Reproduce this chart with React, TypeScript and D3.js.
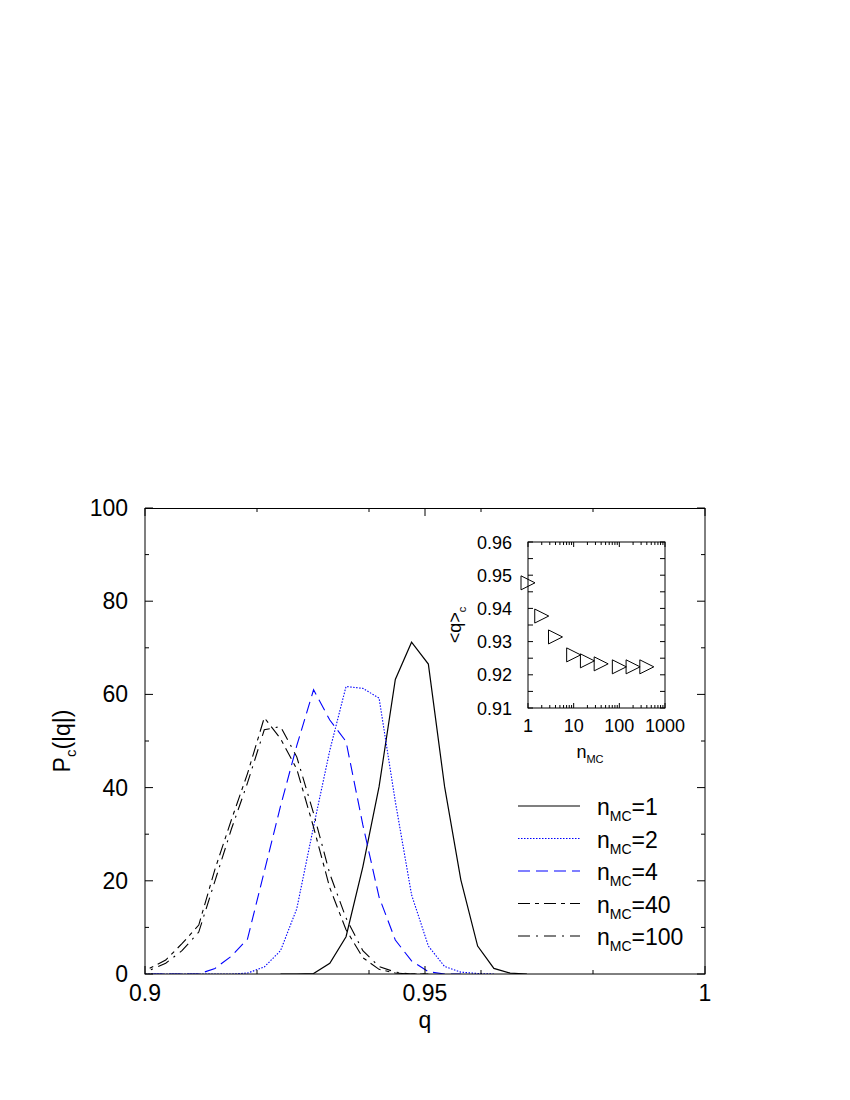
import React from "react";
import * as d3 from "d3";

// ---------- data ----------
const qGrid = [0.8979, 0.9008, 0.9037, 0.9066, 0.9096, 0.9125, 0.9154, 0.9183, 0.9213, 0.9242, 0.9271, 0.9301, 0.933, 0.9359, 0.9389, 0.9418, 0.9447, 0.9476, 0.9506, 0.9535, 0.9564, 0.9594, 0.9623, 0.9652, 0.9682];
const pN1 = [null, null, null, null, null, null, null, null, null, 0, 0, 0.1, 2.3, 8.0, 23, 40.2, 63.2, 71.2, 66.5, 40.2, 20.2, 6.0, 1.2, 0.2, 0];
const pN2 = [0, 0, 0, 0, 0, 0, 0, 0.2, 1.5, 5, 14, 31.6, 48, 61.7, 61.3, 59.2, 37, 17, 6, 1.6, 0.4, 0.1, 0, null, null];
const pN4 = [0, 0, 0, 0, 0, 1.2, 3.8, 7.5, 22, 36, 49, 61, 54.5, 49.9, 32, 16.5, 7.3, 2.8, 0.5, 0, 0, null, null, null, null];
const pN40 = [0.3, 1.2, 3.0, 6.5, 10.5, 22.5, 33, 43, 55, 50.5, 44, 31.5, 18.5, 9.5, 3.5, 1.0, 0.2, 0, 0, null, null, null, null, null, null];
const pN100 = [0.2, 0.8, 2.3, 5, 9, 20, 31, 41, 52.4, 53.1, 46.6, 34.5, 21.5, 12, 5, 1.6, 0.4, 0, 0, null, null, null, null, null, null];

const seriesLabels = ["1", "2", "4", "40", "100"];

const xTicksMajor = [0.9, 0.95, 1];
const xTickLabels = ["0.9", "0.95", "1"];
const xTicksMinor = [0.92, 0.94, 0.96, 0.98];
const yTicksMajor = [0, 20, 40, 60, 80, 100];
const yTicksMinor = [10, 30, 50, 70, 90];

// inset
const insetN = [1, 2, 4, 10, 20, 40, 100, 200, 400];
const insetQ = [0.9477, 0.9377, 0.9314, 0.926, 0.9242, 0.9233, 0.9224, 0.9224, 0.9224];
const insetYTicks = [0.91, 0.92, 0.93, 0.94, 0.95, 0.96];
const insetYTickLabels = ["0.91", "0.92", "0.93", "0.94", "0.95", "0.96"];
const insetYMinor = [0.915, 0.925, 0.935, 0.945, 0.955];
const insetXTicks = [1, 10, 100, 1000];
const insetXTickLabels = ["1", "10", "100", "1000"];

const FONT = "'Liberation Sans', Arial, Helvetica, sans-serif";

export default function App() {
  const L = 145, R = 705, T = 508, B = 974;
  const x = d3.scaleLinear().domain([0.9, 1]).range([L, R]);
  const y = d3.scaleLinear().domain([0, 100]).range([B, T]);

  const styles = [
    { color: "#000", dash: undefined, width: 1.2 },
    { color: "#0000ff", dash: "1.5,1.5", width: 1.1 },
    { color: "#0000ff", dash: "12,6", width: 1.1 },
    { color: "#000", dash: "12,5,4,5", width: 1.1 },
    { color: "#000", dash: "12,6,2,6", width: 1.1 },
  ];
  const allSeries = [pN1, pN2, pN4, pN40, pN100];

  const line = d3
    .line<[number, number | null]>()
    .defined((d) => d[1] !== null)
    .x((d) => x(d[0]))
    .y((d) => y(d[1] as number));

  // inset scales
  const iL = 528, iR = 665, iT = 542, iB = 708;
  const ix = d3.scaleLog().domain([1, 1000]).range([iL, iR]);
  const iy = d3.scaleLinear().domain([0.91, 0.96]).range([iB, iT]);
  const logMinor: number[] = [];
  [1, 10, 100].forEach((dec) => {
    for (let m = 2; m <= 9; m++) logMinor.push(dec * m);
  });

  const legendY0 = 806;
  const legendDy = 32.5;

  return (
    <svg width={850} height={1100} style={{ position: "absolute", left: 0, top: 0, background: "#fff" }} fontFamily={FONT}>
      <defs>
        <clipPath id="plotClip">
          <rect x={L} y={T} width={R - L} height={B - T} />
        </clipPath>
      </defs>

      {/* curves */}
      <g clipPath="url(#plotClip)">
        {allSeries.map((s, i) => (
          <path
            key={i}
            d={line(qGrid.map((q, j) => [q, s[j]] as [number, number | null])) || ""}
            fill="none"
            stroke={styles[i].color}
            strokeWidth={styles[i].width}
            strokeDasharray={styles[i].dash}
          />
        ))}
      </g>

      {/* frame */}
      <rect x={L} y={T + 0.5} width={R - L} height={B - T - 0.5} fill="none" stroke="#000" strokeWidth={1} />

      {/* ticks */}
      {xTicksMajor.map((t) => (
        <g key={"xm" + t}>
          <line x1={x(t)} x2={x(t)} y1={B} y2={B - 8} stroke="#000" />
          <line x1={x(t)} x2={x(t)} y1={T} y2={T + 8} stroke="#000" />
        </g>
      ))}
      {xTicksMinor.map((t) => (
        <g key={"xn" + t}>
          <line x1={x(t)} x2={x(t)} y1={B} y2={B - 4} stroke="#000" />
          <line x1={x(t)} x2={x(t)} y1={T} y2={T + 4} stroke="#000" />
        </g>
      ))}
      {yTicksMajor.map((t) => (
        <g key={"ym" + t}>
          <line x1={L} x2={L + 8} y1={y(t)} y2={y(t)} stroke="#000" />
          <line x1={R} x2={R - 8} y1={y(t)} y2={y(t)} stroke="#000" />
        </g>
      ))}
      {yTicksMinor.map((t) => (
        <g key={"yn" + t}>
          <line x1={L} x2={L + 4} y1={y(t)} y2={y(t)} stroke="#000" />
          <line x1={R} x2={R - 4} y1={y(t)} y2={y(t)} stroke="#000" />
        </g>
      ))}

      {/* tick labels */}
      {xTicksMajor.map((t, i) => (
        <text key={"xl" + t} x={x(t)} y={1001} textAnchor="middle" fontSize={23}>
          {xTickLabels[i]}
        </text>
      ))}
      {yTicksMajor.map((t) => (
        <text key={"yl" + t} x={128} y={y(t) + 8} textAnchor="end" fontSize={23}>
          {t}
        </text>
      ))}

      {/* axis titles */}
      <text x={425} y={1028} textAnchor="middle" fontSize={23}>
        q
      </text>
      <text transform="translate(70,741) rotate(-90)" textAnchor="middle" fontSize={23}>
        P<tspan fontSize={15} dy={6}>c</tspan>
        <tspan dy={-6}>(|q|)</tspan>
      </text>

      {/* legend */}
      {seriesLabels.map((lab, i) => {
        const ly = legendY0 + i * legendDy;
        return (
          <g key={"lg" + i}>
            <line x1={518} x2={580} y1={ly} y2={ly} stroke={styles[i].color} strokeWidth={styles[i].width} strokeDasharray={styles[i].dash} />
            <text x={597} y={ly + 9} fontSize={23}>
              n<tspan fontSize={14} dy={6}>MC</tspan>
              <tspan dy={-6}>={lab}</tspan>
            </text>
          </g>
        );
      })}

      {/* inset */}
      <rect x={iL} y={iT} width={iR - iL} height={iB - iT} fill="none" stroke="#000" strokeWidth={1} />
      {insetYTicks.map((t) => (
        <g key={"iy" + t}>
          <line x1={iL} x2={iL + 5} y1={iy(t)} y2={iy(t)} stroke="#000" />
          <line x1={iR} x2={iR - 5} y1={iy(t)} y2={iy(t)} stroke="#000" />
        </g>
      ))}
      {insetYMinor.map((t) => (
        <g key={"iym" + t}>
          <line x1={iL} x2={iL + 5} y1={iy(t)} y2={iy(t)} stroke="#000" />
          <line x1={iR} x2={iR - 5} y1={iy(t)} y2={iy(t)} stroke="#000" />
        </g>
      ))}
      {insetXTicks.map((t) => (
        <g key={"ix" + t}>
          <line x1={ix(t)} x2={ix(t)} y1={iB} y2={iB - 5} stroke="#000" />
          <line x1={ix(t)} x2={ix(t)} y1={iT} y2={iT + 5} stroke="#000" />
        </g>
      ))}
      {logMinor.map((t) => (
        <g key={"ixm" + t}>
          <line x1={ix(t)} x2={ix(t)} y1={iB} y2={iB - 3} stroke="#000" />
          <line x1={ix(t)} x2={ix(t)} y1={iT} y2={iT + 3} stroke="#000" />
        </g>
      ))}
      {insetYTicks.map((t, i) => (
        <text key={"iyl" + t} x={512} y={iy(t) + 6.5} textAnchor="end" fontSize={18}>
          {insetYTickLabels[i]}
        </text>
      ))}
      {insetXTicks.map((t, i) => (
        <text key={"ixl" + t} x={ix(t)} y={732} textAnchor="middle" fontSize={18}>
          {insetXTickLabels[i]}
        </text>
      ))}
      <text x={590} y={758} textAnchor="middle" fontSize={18}>
        n<tspan fontSize={11} dy={5}>MC</tspan>
      </text>
      <text transform={`translate(461,${(iT + iB) / 2}) rotate(-90)`} textAnchor="middle" fontSize={18}>
        {"<q>"}
        <tspan fontSize={11} dy={5}>c</tspan>
      </text>
      {insetN.map((n, i) => {
        const cx = ix(n);
        const cy = iy(insetQ[i]);
        return (
          <path
            key={"tri" + i}
            d={`M${cx - 7},${cy - 7} L${cx + 7},${cy} L${cx - 7},${cy + 7} Z`}
            fill="none"
            stroke="#000"
            strokeWidth={1}
          />
        );
      })}
    </svg>
  );
}
